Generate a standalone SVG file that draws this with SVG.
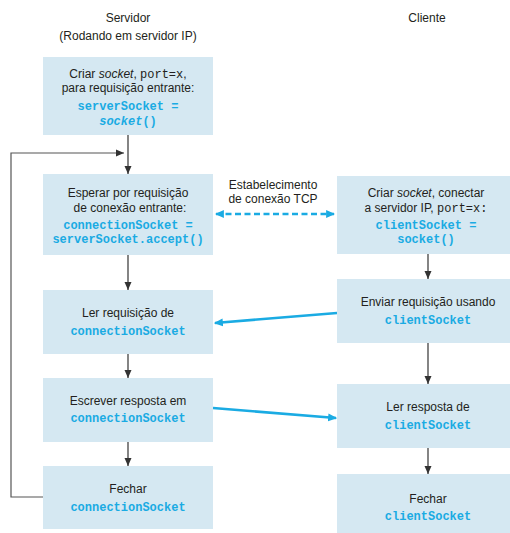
<svg xmlns="http://www.w3.org/2000/svg" width="510" height="533" viewBox="0 0 510 533">
<defs>
<style>
.box{fill:#d5e8f2}
.t{font-family:"Liberation Sans",Arial,sans-serif;font-size:12px;fill:#231f20;text-anchor:middle}
.c{font-family:"Liberation Mono","Courier New",monospace;font-size:12px;font-weight:bold;fill:#1aabe3;text-anchor:middle}
.m{font-family:"Liberation Mono","Courier New",monospace}
.i{font-style:italic}
.dk{stroke:#333;stroke-width:1.2;fill:none}
.bl{stroke:#1aabe3;stroke-width:2.6;fill:none}
</style>
<marker id="ah" viewBox="0 0 8 8" refX="8" refY="4" markerWidth="8" markerHeight="8" markerUnits="userSpaceOnUse" orient="auto"><path d="M0,0.5 L8,4 L0,7.5 Z" fill="#333"/></marker>
<marker id="ab" viewBox="0 0 8 8" refX="7" refY="4" markerWidth="9" markerHeight="9" markerUnits="userSpaceOnUse" orient="auto-start-reverse"><path d="M0,0.5 L8,4 L0,7.5 Z" fill="#1aabe3"/></marker>
</defs>

<text class="t" x="128" y="22">Servidor</text>
<text class="t" x="128" y="40">(Rodando em servidor IP)</text>
<text class="t" x="427" y="22">Cliente</text>

<g id="connectors">
<line class="dk" x1="128" y1="135" x2="128" y2="174" marker-end="url(#ah)"/>
<line class="dk" x1="128" y1="255" x2="128" y2="290" marker-end="url(#ah)"/>
<line class="dk" x1="128" y1="354" x2="128" y2="378" marker-end="url(#ah)"/>
<line class="dk" x1="128" y1="442" x2="128" y2="466" marker-end="url(#ah)"/>
<polyline class="dk" points="43,497 11,497 11,153 124,153" marker-end="url(#ah)" style="stroke:#555"/>
<line class="dk" x1="428" y1="254" x2="428" y2="279" marker-end="url(#ah)"/>
<line class="dk" x1="428" y1="343" x2="428" y2="384" marker-end="url(#ah)"/>
<line class="dk" x1="428" y1="448" x2="428" y2="474" marker-end="url(#ah)"/>
<line class="bl" x1="216" y1="214" x2="334" y2="214" stroke-dasharray="6,3.5" marker-start="url(#ab)" marker-end="url(#ab)"/>
<line class="bl" x1="337" y1="313" x2="215" y2="323" marker-end="url(#ab)"/>
<line class="bl" x1="213" y1="408" x2="336" y2="418" marker-end="url(#ab)"/>
<text class="t" x="273" y="189">Estabelecimento</text>
<text class="t" x="273" y="203">de conexão TCP</text>
</g>

<g id="s1">
<rect class="box" x="43" y="57" width="170" height="78"/>
<text class="t" x="128" y="78">Criar  <tspan class="i">socket</tspan>, <tspan class="m">port=x</tspan>,</text>
<text class="t" x="128" y="92">para requisição entrante:</text>
<text class="c" x="128" y="110">serverSocket =</text>
<text class="c" x="128" y="125"><tspan class="i">socket</tspan>()</text>
</g>

<g id="s2">
<rect class="box" x="43" y="174" width="170" height="81"/>
<text class="t" x="128" y="197">Esperar por requisição</text>
<text class="t" x="130" y="212">de conexão entrante:</text>
<text class="c" x="128" y="229">connectionSocket =</text>
<text class="c" x="128" y="243">serverSocket.accept()</text>
</g>

<g id="s3">
<rect class="box" x="43" y="290" width="170" height="64"/>
<text class="t" x="128" y="317">Ler requisição de</text>
<text class="c" x="128" y="335">connectionSocket</text>
</g>

<g id="s4">
<rect class="box" x="43" y="378" width="170" height="64"/>
<text class="t" x="128" y="405">Escrever resposta em</text>
<text class="c" x="128" y="422">connectionSocket</text>
</g>

<g id="s5">
<rect class="box" x="43" y="466" width="170" height="63"/>
<text class="t" x="128" y="493">Fechar</text>
<text class="c" x="128" y="511">connectionSocket</text>
</g>

<g id="c1">
<rect class="box" x="337" y="176" width="173" height="78"/>
<text class="t" x="426" y="197">Criar <tspan class="i">socket</tspan>, conectar</text>
<text class="t" x="426" y="212">a servidor IP, <tspan class="m">port=x:</tspan></text>
<text class="c" x="426" y="229">clientSocket =</text>
<text class="c" x="426" y="243">socket()</text>
</g>

<g id="c2">
<rect class="box" x="337" y="279" width="173" height="64"/>
<text class="t" x="428" y="306">Enviar requisição usando</text>
<text class="c" x="428" y="324">clientSocket</text>
</g>

<g id="c3">
<rect class="box" x="337" y="384" width="173" height="64"/>
<text class="t" x="428" y="411">Ler resposta de</text>
<text class="c" x="428" y="429">clientSocket</text>
</g>

<g id="c4">
<rect class="box" x="337" y="474" width="173" height="59"/>
<text class="t" x="428" y="503">Fechar</text>
<text class="c" x="428" y="520">clientSocket</text>
</g>
</svg>
